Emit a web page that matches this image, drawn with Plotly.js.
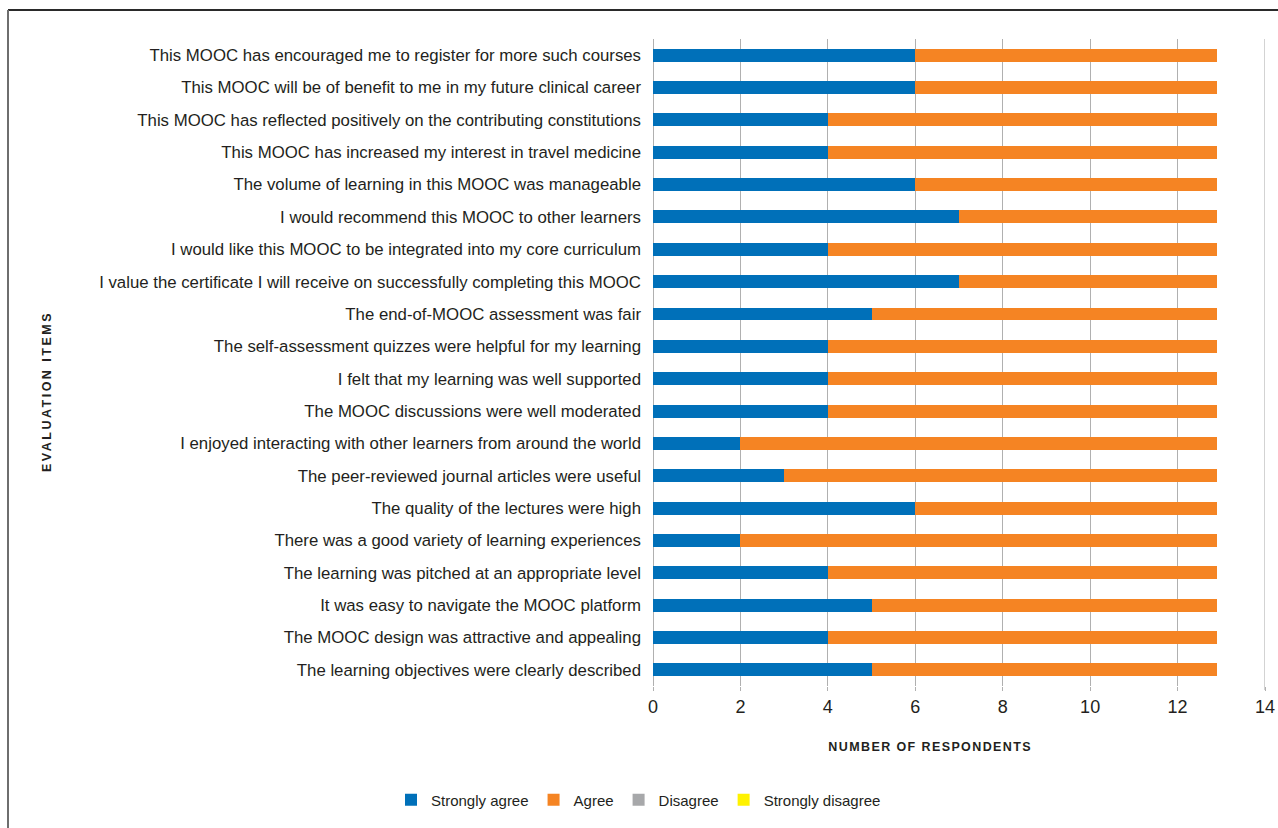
<!DOCTYPE html>
<html>
<head>
<meta charset="utf-8">
<script src="https://cdn.plot.ly/plotly-3.0.1.min.js"></script>
<style>
  html, body { margin: 0; padding: 0; background: #ffffff; }
  .shapelayer path { shape-rendering: crispEdges; }
</style>
</head>
<body>
<div id="chart"></div>
<script>
// Evaluation items, listed top to bottom as in the figure
const items = [
  "This MOOC has encouraged me to register for more such courses",
  "This MOOC will be of benefit to me in my future clinical career",
  "This MOOC has reflected positively on the contributing constitutions",
  "This MOOC has increased my interest in travel medicine",
  "The volume of learning in this MOOC was manageable",
  "I would recommend this MOOC to other learners",
  "I would like this MOOC to be integrated into my core curriculum",
  "I value the certificate I will receive on successfully completing this MOOC",
  "The end-of-MOOC assessment was fair",
  "The self-assessment quizzes were helpful for my learning",
  "I felt that my learning was well supported",
  "The MOOC discussions were well moderated",
  "I enjoyed interacting with other learners from around the world",
  "The peer-reviewed journal articles were useful",
  "The quality of the lectures were high",
  "There was a good variety of learning experiences",
  "The learning was pitched at an appropriate level",
  "It was easy to navigate the MOOC platform",
  "The MOOC design was attractive and appealing",
  "The learning objectives were clearly described"
];
const stronglyAgree    = [6, 6, 4, 4, 6, 7, 4, 7, 5, 4, 4, 4, 2, 3, 6, 2, 4, 5, 4, 5];
const agree            = [6.9, 6.9, 8.9, 8.9, 6.9, 5.9, 8.9, 5.9, 7.9, 8.9, 8.9, 8.9, 10.9, 9.9, 6.9, 10.9, 8.9, 7.9, 8.9, 7.9];
const disagree         = [0, 0, 0, 0, 0, 0, 0, 0, 0, 0, 0, 0, 0, 0, 0, 0, 0, 0, 0, 0];
const stronglyDisagree = [0, 0, 0, 0, 0, 0, 0, 0, 0, 0, 0, 0, 0, 0, 0, 0, 0, 0, 0, 0];
const seriesNames = ["Strongly agree", "Agree", "Disagree", "Strongly disagree"];
const xTicks = [0, 2, 4, 6, 8, 10, 12, 14];

const colors = ["#0070b9", "#f58423", "#a7a8aa", "#fff200"];
const seriesVals = [stronglyAgree, agree, disagree, stronglyDisagree];

const traces = seriesVals.map((vals, i) => ({
  type: "bar",
  orientation: "h",
  name: seriesNames[i],
  x: vals,
  y: items,
  marker: { color: colors[i], line: { width: 0 } }
}));

const L = 653, R = 13, T = 39, B = 142;
const PW = 1278 - L - R, PH = 828 - T - B;
const px = v => (v - L) / PW;          // pixel x -> paper x
const py = v => (828 - B - v) / PH;    // pixel y -> paper y

// vertical grid lines for the interior ticks, drawn between grid and bars
const gridShapes = xTicks.slice(0, -1).map(t => ({
  type: "line", xref: "x", yref: "paper",
  x0: t, x1: t, y0: 0, y1: 1,
  line: { color: "#b0b0b0", width: 1 },
  layer: "between"
}));

const layout = {
  width: 1278,
  height: 828,
  margin: { l: L, r: R, t: T, b: B },
  barmode: "stack",
  bargap: 0.6,
  font: { family: "Liberation Sans, Arial, sans-serif", color: "#231f20" },
  xaxis: {
    range: [0, 14],
    tickvals: xTicks,
    showgrid: true,
    gridcolor: "#b0b0b0",
    zerolinecolor: "#b0b0b0",
    ticks: "outside",
    ticklen: 4,
    tickcolor: "#b0b0b0",
    tickfont: { size: 18, color: "#231f20" }
  },
  yaxis: {
    type: "category",
    autorange: "reversed",
    showgrid: false,
    ticklabelstandoff: 11,
    tickfont: { size: 16.8, color: "#231f20" }
  },
  shapes: gridShapes.concat([
    {
      type: "line", xref: "x", yref: "paper",
      x0: 14, x1: 14, y0: py(690), y1: 1,
      line: { color: "#d3d3d3", width: 3 }
    },
    {
      type: "line", xref: "paper", yref: "paper",
      x0: px(8), x1: px(1290), y0: py(10), y1: py(10),
      line: { color: "#2a2a2a", width: 2 }
    },
    {
      type: "line", xref: "paper", yref: "paper",
      x0: px(8), x1: px(8), y0: py(10), y1: py(840),
      line: { color: "#6e6e6e", width: 2 }
    }
  ]),
  annotations: [
    {
      text: "<b>NUMBER OF RESPONDENTS</b>",
      xref: "paper", yref: "paper",
      x: px(930), y: py(747),
      xanchor: "center", yanchor: "middle",
      showarrow: false,
      font: { size: 12.5, color: "#231f20" }
    },
    {
      text: "<b>EVALUATION ITEMS</b>",
      xref: "paper", yref: "paper",
      x: px(47), y: py(392),
      xanchor: "center", yanchor: "middle",
      textangle: -90,
      showarrow: false,
      font: { size: 12.5, color: "#231f20" }
    }
  ],
  showlegend: true,
  legend: {
    orientation: "h",
    x: px(391),
    xanchor: "left",
    y: py(800),
    yanchor: "middle",
    font: { size: 15, color: "#231f20" },
    traceorder: "normal",
    bgcolor: "rgba(0,0,0,0)"
  }
};

function liftGrid() {
  try {
    const sp = document.querySelector(".cartesianlayer .subplot.xy");
    if (!sp) return;
    const over = sp.querySelector(":scope > .overplot");
    if (!over) return;
    ["gridlayer", "zerolinelayer", "layer-between"].forEach(cls => {
      const el = sp.querySelector(":scope > ." + cls);
      if (el) sp.insertBefore(el, over);
    });
  } catch (e) { /* keep default order */ }
}

Plotly.newPlot("chart", traces, layout, { displayModeBar: false }).then(() => {
  const ann = document.querySelectorAll(".annotation-text");
  if (ann[0]) ann[0].style.letterSpacing = "1.4px";
  if (ann[1]) ann[1].style.letterSpacing = "2.5px";
  liftGrid();
});
</script>
</body>
</html>
